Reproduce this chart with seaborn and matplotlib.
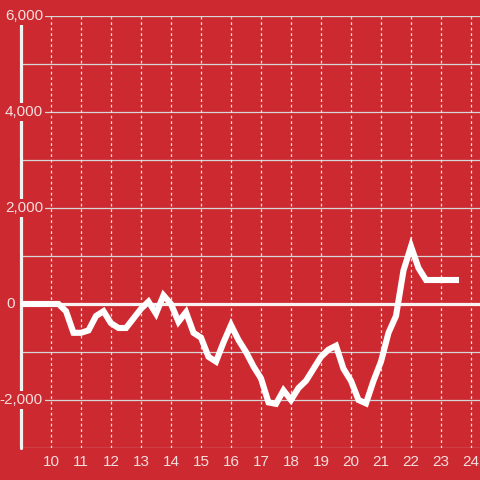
import numpy as np
import pandas as pd
import seaborn as sns
import matplotlib.pyplot as plt
import matplotlib.transforms as mtransforms

# ==========================================
# DATA
# ==========================================
hours = [9.0, 9.25, 9.5, 9.75, 10.0, 10.25, 10.5, 10.75, 11.0, 11.25, 11.5, 11.75,
         12.0, 12.25, 12.5, 12.75, 13.0, 13.25, 13.5, 13.75, 14.0, 14.25, 14.5, 14.75,
         15.0, 15.25, 15.5, 15.75, 16.0, 16.25, 16.5, 16.75, 17.0, 17.25, 17.5, 17.75,
         18.0, 18.25, 18.5, 18.75, 19.0, 19.25, 19.5, 19.75, 20.0, 20.25, 20.5, 20.75,
         21.0, 21.25, 21.5, 21.75, 22.0, 22.25, 22.5, 22.75, 23.0, 23.25, 23.5]
values = [0, 0, 0, 0, 0, 0, -150, -600, -600, -550, -250, -150,
          -400, -500, -500, -300, -100, 50, -200, 180, 0, -370, -170, -600,
          -700, -1100, -1200, -800, -440, -750, -1000, -1300, -1550, -2050, -2080, -1800,
          -2000, -1750, -1600, -1350, -1100, -950, -870, -1350, -1600, -2000, -2070, -1600,
          -1200, -600, -250, 700, 1200, 750, 500, 500, 500, 500, 500]
x_ticks = list(range(10, 25))
y_ticks = list(range(-3000, 6001, 1000))
y_labels = {6000: '6,000', 4000: '4,000', 2000: '2,000', 0: '0', -2000: '-2,000'}

BG = '#cc2a30'
TXT = '#f5dede'

df = pd.DataFrame({'hour': hours, 'value': values})

sns.set_style('white', rc={'axes.facecolor': BG, 'figure.facecolor': BG})
plt.rcParams['font.family'] = ['Liberation Sans', 'DejaVu Sans']

fig = plt.figure(figsize=(4.8, 4.8), dpi=100)
ax = fig.add_axes([21 / 480, 32 / 480, 459 / 480, 432 / 480])

ax.set_xlim(9, 9 + 459 / 30)
ax.set_ylim(-3000, 6000)

# grid
for y in y_ticks:
    if y == 0:
        continue
    ax.axhline(y, color='#d6d6d6', lw=0.9, zorder=1)
for x in x_ticks:
    ax.axvline(x, color='#f0e4e4', lw=0.9, ls=(0, (2.2, 2.2)), zorder=1)
ax.axhline(0, color='#f8f2f2', lw=2.3, zorder=1.5)
ax.axvline(9, color='#f2f2f2', lw=2.3, zorder=1.6, clip_on=False)

sns.lineplot(data=df, x='hour', y='value', ax=ax, color='white', linewidth=4.4,
             sort=False, zorder=4)
for ln in ax.lines[-1:]:
    ln.set_solid_capstyle('projecting')
    ln.set_solid_joinstyle('miter')

for s in ax.spines.values():
    s.set_visible(False)

# y labels sit on top of spine with background box
trans = mtransforms.blended_transform_factory(ax.transAxes, ax.transData)
for y, lab in y_labels.items():
    xpos = (43 - 21) / 459 if y != 0 else (15 - 21) / 459
    ax.text(xpos, y, lab, transform=trans, ha='right', va='center', fontsize=11,
            color=TXT, zorder=3, clip_on=False,
            bbox=dict(facecolor=BG, edgecolor='none', pad=1.5))
ax.set_yticks([])

ax.set_xticks(x_ticks)
ax.set_xticklabels([str(t) for t in x_ticks])
ax.tick_params(axis='x', length=0, pad=5, labelsize=11, labelcolor=TXT)
ax.set_xlabel('')
ax.set_ylabel('')

plt.savefig('out.png', dpi=100, facecolor=BG)
